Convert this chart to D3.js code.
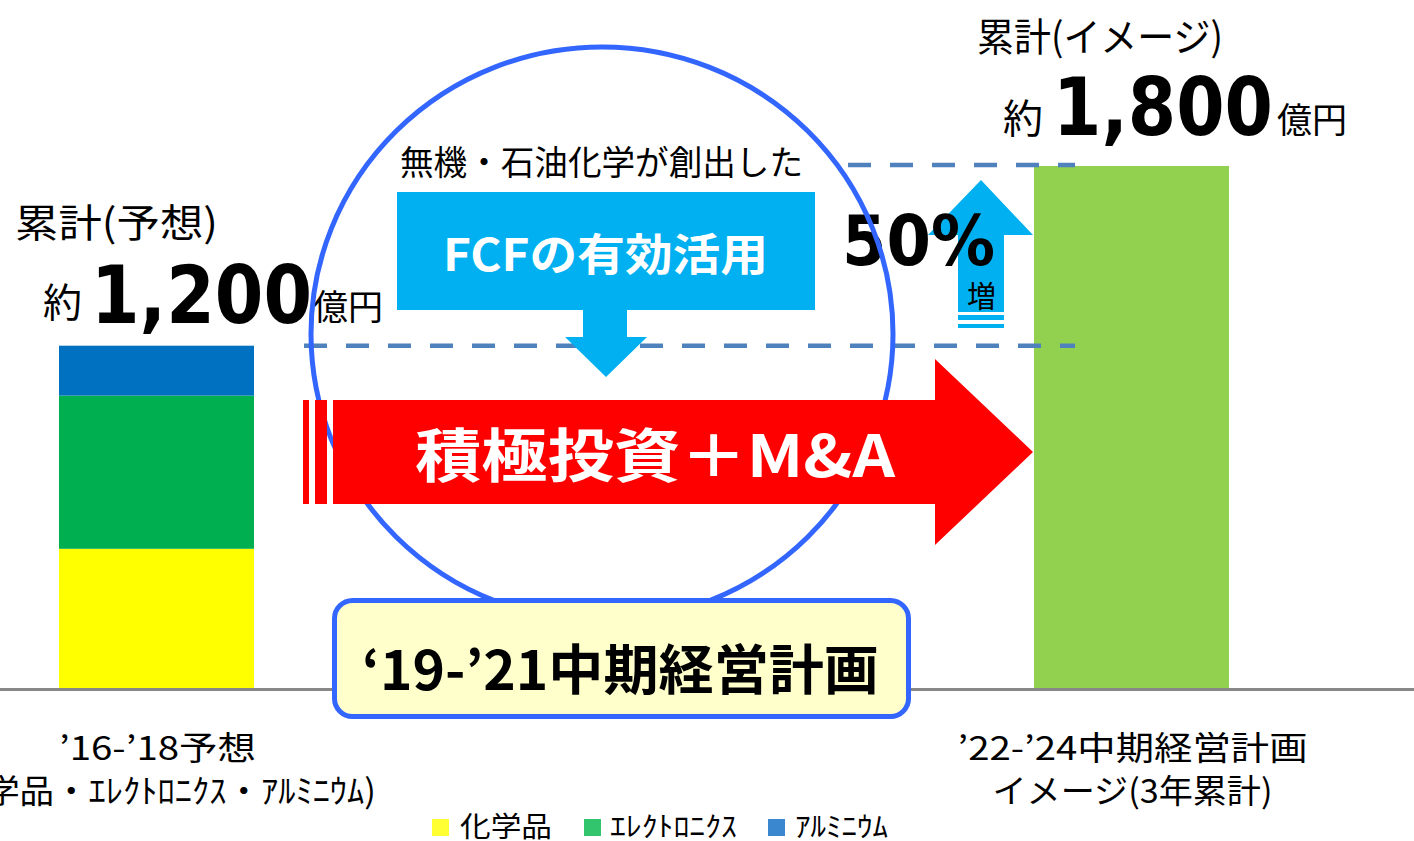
<!DOCTYPE html>
<html>
<head>
<meta charset="utf-8">
<script src="https://cdn.jsdelivr.net/npm/d3@7"></script>
<style>
  html, body { margin: 0; padding: 0; background: #fff; }
  svg { display: block; }
</style>
</head>
<body>
<svg id="chart" width="1414" height="841"></svg>
<script>
// ---------- data ----------
const categories = ["’16-’18予想", "’22-’24中期経営計画"];
const categorySubLabels = ["(化学品・ｴﾚｸﾄﾛﾆｸｽ・ｱﾙﾐﾆｳﾑ)", "イメージ(3年累計)"];
const seriesKeys = ["化学品", "ｴﾚｸﾄﾛﾆｸｽ", "ｱﾙﾐﾆｳﾑ", "イメージ"];
const chemicals   = [488, 0];
const electronics = [537, 0];
const aluminum    = [175, 0];
const outlook     = [0, 1830];
const totalTitles = ["累計(予想)", "累計(イメージ)"];
const totalLabels = ["1,200", "1,800"];
const growthLabel = "50%";
const legendKeys = ["化学品", "ｴﾚｸﾄﾛﾆｸｽ", "ｱﾙﾐﾆｳﾑ"];

const barColors = { "化学品": "#FFFF00", "ｴﾚｸﾄﾛﾆｸｽ": "#00B050", "ｱﾙﾐﾆｳﾑ": "#0070C0", "イメージ": "#92D050" };
const legendColors = ["#FFFF33", "#33C46E", "#3A87CF"];

const rows = categories.map((c, i) => ({
  cat: c,
  "化学品": chemicals[i], "ｴﾚｸﾄﾛﾆｸｽ": electronics[i], "ｱﾙﾐﾆｳﾑ": aluminum[i], "イメージ": outlook[i]
}));
const totals = rows.map(r => seriesKeys.reduce((s, k) => s + r[k], 0));

// ---------- scales ----------
const svg = d3.select("#chart");
const x = d3.scaleBand().domain(categories).range([59, 1229]).paddingInner(0.8).paddingOuter(0);
const y = d3.scaleLinear().domain([0, 1830]).range([688, 166]);

const JP = "'Noto Sans CJK JP', 'Noto Sans', sans-serif";
const VB = "'DejaVu Sans', Verdana, sans-serif";

function txt(g, o) {
  const t = g.append("text")
    .attr("x", o.x).attr("y", o.y)
    .attr("font-family", o.family || JP)
    .attr("font-size", o.size)
    .attr("font-weight", o.weight || "normal")
    .attr("fill", o.fill || "#000")
    .attr("text-anchor", o.anchor || "start")
    .text(o.text);
  if (o.len) t.attr("textLength", o.len).attr("lengthAdjust", "spacingAndGlyphs");
  return t;
}

// ---------- bars ----------
const stack = d3.stack().keys(seriesKeys)(rows);
svg.append("g").selectAll("g").data(stack).join("g")
  .attr("fill", d => barColors[d.key])
  .selectAll("rect").data(d => d.filter(p => p[1] > p[0])).join("rect")
  .attr("x", d => x(d.data.cat))
  .attr("width", x.bandwidth())
  .attr("y", d => y(d[1]))
  .attr("height", d => y(d[0]) - y(d[1]));

// baseline
svg.append("line")
  .attr("x1", 0).attr("x2", 1414)
  .attr("y1", y(0) + 1.5).attr("y2", y(0) + 1.5)
  .attr("stroke", "#878787").attr("stroke-width", 3);

// dashed reference lines at the two totals
const dashG = svg.append("g").attr("stroke", "#4F81BD").attr("stroke-width", 4.5)
  .attr("stroke-dasharray", "23,19");
dashG.append("line").attr("x1", 304).attr("x2", 1075)
  .attr("y1", y(totals[0])).attr("y2", y(totals[0]));
dashG.append("line").attr("x1", 848).attr("x2", 1075)
  .attr("y1", y(totals[1]) - 1).attr("y2", y(totals[1]) - 1);

// cyan down arrow (FCF)
svg.append("polygon")
  .attr("points", [[397,192],[815,192],[815,310],[627,310],[627,337],[647,337],[606,377],[565,337],[583,337],[583,310],[397,310]].join(" "))
  .attr("fill", "#00B0F0");
txt(svg, { x: 443, y: 271, text: "FCFの有効活用", size: 44, weight: "bold", fill: "#fff", len: 325 });
txt(svg, { x: 400, y: 175, text: "無機・石油化学が創出した", size: 34, len: 403 });

// up arrow
svg.append("polygon")
  .attr("points", [[981,180],[1033,235],[1004,235],[1004,312],[958,312],[958,235],[928,235]].join(" "))
  .attr("fill", "#00B0F0");
svg.append("rect").attr("x", 958).attr("y", 315).attr("width", 46).attr("height", 5).attr("fill", "#00B0F0");
svg.append("rect").attr("x", 958).attr("y", 324).attr("width", 46).attr("height", 4).attr("fill", "#00B0F0");
txt(svg, { x: 967, y: 307, text: "増", size: 30, len: 29 });
txt(svg, { x: 842, y: 265, text: growthLabel, size: 69, weight: "bold", family: VB, len: 153 });

// total annotations
txt(svg, { x: 15, y: 237, text: totalTitles[0], size: 39, len: 203 });
txt(svg, { x: 43, y: 317, text: "約", size: 40, len: 39 });
txt(svg, { x: 91, y: 323, text: totalLabels[0], size: 80, weight: "bold", family: VB, len: 221 });
txt(svg, { x: 313, y: 320, text: "億円", size: 35, len: 70 });

txt(svg, { x: 977, y: 51, text: totalTitles[1], size: 39, len: 246 });
txt(svg, { x: 1003, y: 133, text: "約", size: 40, len: 40 });
txt(svg, { x: 1053, y: 135, text: totalLabels[1], size: 80, weight: "bold", family: VB, len: 220 });
txt(svg, { x: 1277, y: 133, text: "億円", size: 35, len: 70 });

// circle
svg.append("ellipse")
  .attr("cx", 602).attr("cy", 334).attr("rx", 291).attr("ry", 287)
  .attr("fill", "none").attr("stroke", "#3366FF").attr("stroke-width", 5);

// red arrow
svg.append("rect").attr("x", 303).attr("y", 400).attr("width", 6).attr("height", 104).attr("fill", "#FF0000");
svg.append("rect").attr("x", 315).attr("y", 400).attr("width", 12).attr("height", 104).attr("fill", "#FF0000");
svg.append("polygon")
  .attr("points", [[333,400],[935,400],[935,359],[1033,452],[935,545],[935,504],[333,504]].join(" "))
  .attr("fill", "#FF0000");
txt(svg, { x: 415, y: 477, text: "積極投資＋M&A", size: 58, weight: "bold", fill: "#fff", len: 480 });

// plan box
svg.append("rect")
  .attr("x", 334.5).attr("y", 600.5).attr("width", 574).attr("height", 116).attr("rx", 18)
  .attr("fill", "#FFFFCC").attr("stroke", "#3366FF").attr("stroke-width", 5);
txt(svg, { x: 362, y: 690, text: "‘19-’21中期経営計画", size: 54, weight: "bold", len: 517 });

// category labels
const catG = svg.append("g").attr("font-family", JP).attr("fill", "#000");
catG.selectAll("text.l1").data(categories).join("text").attr("class", "l1")
  .attr("x", d => x(d) + x.bandwidth() / 2 + 1)
  .attr("y", 760).attr("text-anchor", "middle").attr("font-size", 33)
  .attr("textLength", (d, i) => [197, 350][i]).attr("lengthAdjust", "spacingAndGlyphs")
  .text(d => d);
catG.selectAll("text.l2").data(categorySubLabels).join("text").attr("class", "l2")
  .attr("x", (d, i) => x(categories[i]) + x.bandwidth() / 2 + 1)
  .attr("y", 803).attr("text-anchor", "middle").attr("font-size", 33)
  .attr("textLength", (d, i) => [437, 280][i]).attr("lengthAdjust", "spacingAndGlyphs")
  .text(d => d);

// legend
const legX = [432, 584, 768];
const legTX = [460, 610, 795];
const legW = [92, 127, 93];
const leg = svg.append("g");
legendKeys.forEach((k, i) => {
  leg.append("rect").attr("x", legX[i]).attr("y", 819).attr("width", 17).attr("height", 17).attr("fill", legendColors[i]);
  txt(leg, { x: legTX[i], y: 837, text: k, size: 28, len: legW[i] });
});
</script>
</body>
</html>
